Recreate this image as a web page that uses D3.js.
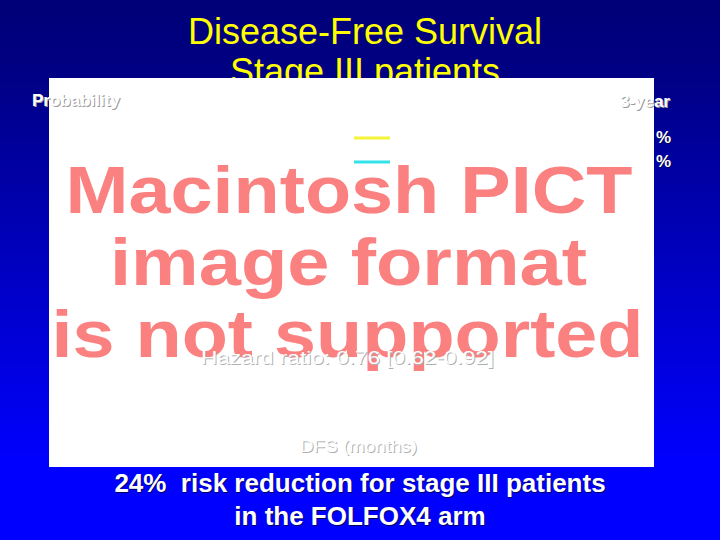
<!DOCTYPE html>
<html>
<head>
<meta charset="utf-8">
<script src="https://cdn.jsdelivr.net/npm/d3@7"></script>
<style>
  html, body { margin: 0; padding: 0; background: #000080; }
  svg { display: block; }
  text { font-family: "Liberation Sans", Arial, Helvetica, sans-serif; white-space: pre; }
</style>
</head>
<body>
<script>
// ---- data ----
const titleLines = ["Disease-Free Survival", "Stage III patients"];
const placeholderLines = ["Macintosh PICT", "image format", "is not supported"];
const seriesNames = ["FOLFOX4", "LV5FU2"];
const seriesColors = ["#f4f43a", "#34e2ea"];
const threeYearLabels = ["%", "%"];
const yAxisLabel = "Probability";
const xAxisLabel = "DFS (months)";
const legendHeader = "3-year";
const hazardText = "Hazard ratio: 0.76 [0.62-0.92]";
const footerLines = ["24%  risk reduction for stage III patients", "in the FOLFOX4 arm"];

// ---- layout ----
const W = 720, H = 540;
const svg = d3.select("body").append("svg").attr("width", W).attr("height", H);

const defs = svg.append("defs");
const grad = defs.append("linearGradient").attr("id", "bg").attr("x1", 0).attr("y1", 0).attr("x2", 0).attr("y2", 1);
grad.append("stop").attr("offset", "0%").attr("stop-color", "#000078");
grad.append("stop").attr("offset", "12%").attr("stop-color", "#000082");
grad.append("stop").attr("offset", "86%").attr("stop-color", "#0000ff");
grad.append("stop").attr("offset", "100%").attr("stop-color", "#0000ff");
svg.append("rect").attr("width", W).attr("height", H).attr("fill", "url(#bg)");

// title
const titleY = d3.scalePoint().domain(titleLines).range([44, 84]);
svg.selectAll("text.title").data(titleLines).join("text")
  .attr("class", "title")
  .attr("x", 365).attr("y", d => titleY(d))
  .attr("text-anchor", "middle")
  .attr("font-size", 36).attr("fill", "#ffff00")
  .text(d => d);

// placeholder image area
const img = { x: 49, y: 78, w: 605, h: 389 };
svg.append("rect").attr("x", img.x).attr("y", img.y).attr("width", img.w).attr("height", img.h).attr("fill", "#ffffff");

const phY = d3.scalePoint().domain(placeholderLines).range([213, 357]);
const phLen = [567, 477, 592];
const phCx = [349, 348.5, 347.5];
svg.selectAll("text.ph").data(placeholderLines).join("text")
  .attr("class", "ph")
  .attr("x", (d, i) => phCx[i] - phLen[i] / 2).attr("y", d => phY(d))
  .attr("textLength", (d, i) => phLen[i]).attr("lengthAdjust", "spacingAndGlyphs")
  .attr("font-size", 67).attr("font-weight", "bold").attr("fill", "#fb8080")
  .text(d => d);

// helper for embossed text
function emboss(x, y, str, opts) {
  const g = svg.append("g");
  [[1, 1, opts.shadow || "#9a9a9a"], [0, 0, "#ffffff"]].forEach(([dx, dy, c]) => {
    const t = g.append("text").attr("x", x + dx).attr("y", y + dy)
      .attr("xml:space", "preserve")
      .attr("font-size", opts.size).attr("font-weight", opts.weight || "normal")
      .attr("text-anchor", opts.anchor || "start").attr("fill", c).text(str);
    if (opts.len) t.attr("textLength", opts.len).attr("lengthAdjust", "spacingAndGlyphs");
  });
  return g;
}

emboss(32, 106, yAxisLabel, { size: 17, weight: "bold" });
emboss(670, 107, legendHeader, { size: 17, weight: "bold", anchor: "end" });

// legend rows
const legY = d3.scalePoint().domain(seriesNames).range([138, 162]);
const legX = d3.scaleLinear().domain([0, 1]).range([354, 390]);
svg.selectAll("line.leg").data(seriesNames).join("line")
  .attr("class", "leg")
  .attr("x1", legX(0)).attr("x2", legX(1))
  .attr("y1", d => legY(d)).attr("y2", d => legY(d))
  .attr("stroke", (d, i) => seriesColors[i]).attr("stroke-width", 3);

seriesNames.forEach((s, i) => {
  emboss(656, legY(s) + 5, threeYearLabels[i], { size: 17, weight: "bold", shadow: "#000050" });
});

emboss(201, 364, hazardText, { size: 19, len: 293, shadow: "#b0b0b0" });
emboss(300, 452, xAxisLabel, { size: 16, len: 117, shadow: "#b0b0b0" });

// footer
const footY = d3.scalePoint().domain(footerLines).range([492, 525]);
footerLines.forEach(l => {
  emboss(360, footY(l), l, { size: 26, weight: "bold", anchor: "middle", shadow: "#000060" });
});
</script>
</body>
</html>
